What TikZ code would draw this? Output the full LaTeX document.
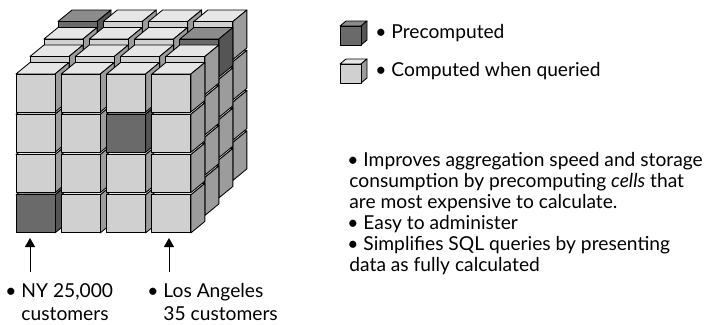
\documentclass[tikz,border=0pt]{standalone}
\usepackage{fontspec}
\setmainfont{Lato}
\usetikzlibrary{arrows.meta}

\definecolor{lightfront}{HTML}{D0D0D0}
\definecolor{lighttop}{HTML}{E6E6E6}
\definecolor{lightside}{HTML}{9C9C9C}
\definecolor{darkfront}{HTML}{6A6A6A}
\definecolor{darktop}{HTML}{8C8C8C}
\definecolor{darkside}{HTML}{555555}

% \blockcube{x}{y}{w}{h}{dx}{dy}{scheme}: (x,y) is the top-left corner of the front face
\newcommand\blockcube[7]{%
  \filldraw[fill=#7top] (#1,#2) -- ++(#5,-#6) -- ++(#3,0) -- ++(-#5,#6) -- cycle;
  \filldraw[fill=#7side] (#1+#3,#2) -- ++(#5,-#6) -- ++(0,#4) -- ++(-#5,#6) -- cycle;
  \filldraw[fill=#7front] (#1,#2) rectangle ++(#3,#4);
}

\tikzset{
  txt/.style={font=\fontsize{19.2}{21}\selectfont, inner sep=0pt, anchor=base west, align=left},
  lbl/.style={txt, font=\fontsize{19.2}{23}\selectfont},
  pointer/.style={line width=1pt, -{Triangle[width=10pt,length=9pt]}},
}

\begin{document}
\begin{tikzpicture}[x=1pt,y=-1pt,line width=0.85pt,line join=round]
\useasboundingbox (0,0) rectangle (706,324);

% 4 x 4 x 4 block of cubes, drawn from the back layer to the front
\foreach \k in {3,2,1,0} {
  \foreach \r in {3,2,1,0} {
    \foreach \c in {0,1,2,3} {
      \pgfmathsetmacro\cx{16+45.3*\c+14*\k}
      \pgfmathsetmacro\cy{74+40.3*\r-17.5*\k}
      \pgfmathtruncatemacro\id{\c+10*\r+100*\k}
      \pgfmathtruncatemacro\isdark{(\id==30)||(\id==12)||(\id==300)||(\id==203)}
      \ifnum\isdark=1
        \blockcube{\cx}{\cy}{39}{38}{14}{11.5}{dark}
      \else
        \blockcube{\cx}{\cy}{39}{38}{14}{11.5}{light}
      \fi
    }
  }
}

% legend
\blockcube{340}{26}{21}{19}{6}{5}{dark}
\blockcube{340}{64}{21}{19}{6}{5}{light}
\node[txt] (pre) at (375,38) {• Precomputed};
\node[txt] (cwq) at (375,76) {• Computed when queried};

% benefits (each node is placed by the baseline of its last line)
\node[txt] (b1) at (347,208) {• Improves aggregation speed and storage\\
  \hspace*{2pt}consumption by precomputing \textit{cells} that\\
  \hspace*{2pt}are most expensive to calculate.};
\node[txt] (b2) at (347,229) {• Easy to administer};
\node[txt] (b3) at (347,271) {• Simplifies SQL queries by presenting\\
  \hspace*{2pt}data as fully calculated};

% labels under the block
\node[lbl] (ny) at (5,320) {• NY 25,000\\\phantom{• }customers};
\node[lbl] (la) at (147,320) {• Los Angeles\\\phantom{• }35 customers};

\coordinate (nyfoot) at (30,272);
\coordinate (nytip) at (30,238);
\coordinate (lafoot) at (169,272);
\coordinate (latip) at (169,238);
\draw[pointer] (nyfoot) -- (nytip);
\draw[pointer] (lafoot) -- (latip);
\end{tikzpicture}
\end{document}
